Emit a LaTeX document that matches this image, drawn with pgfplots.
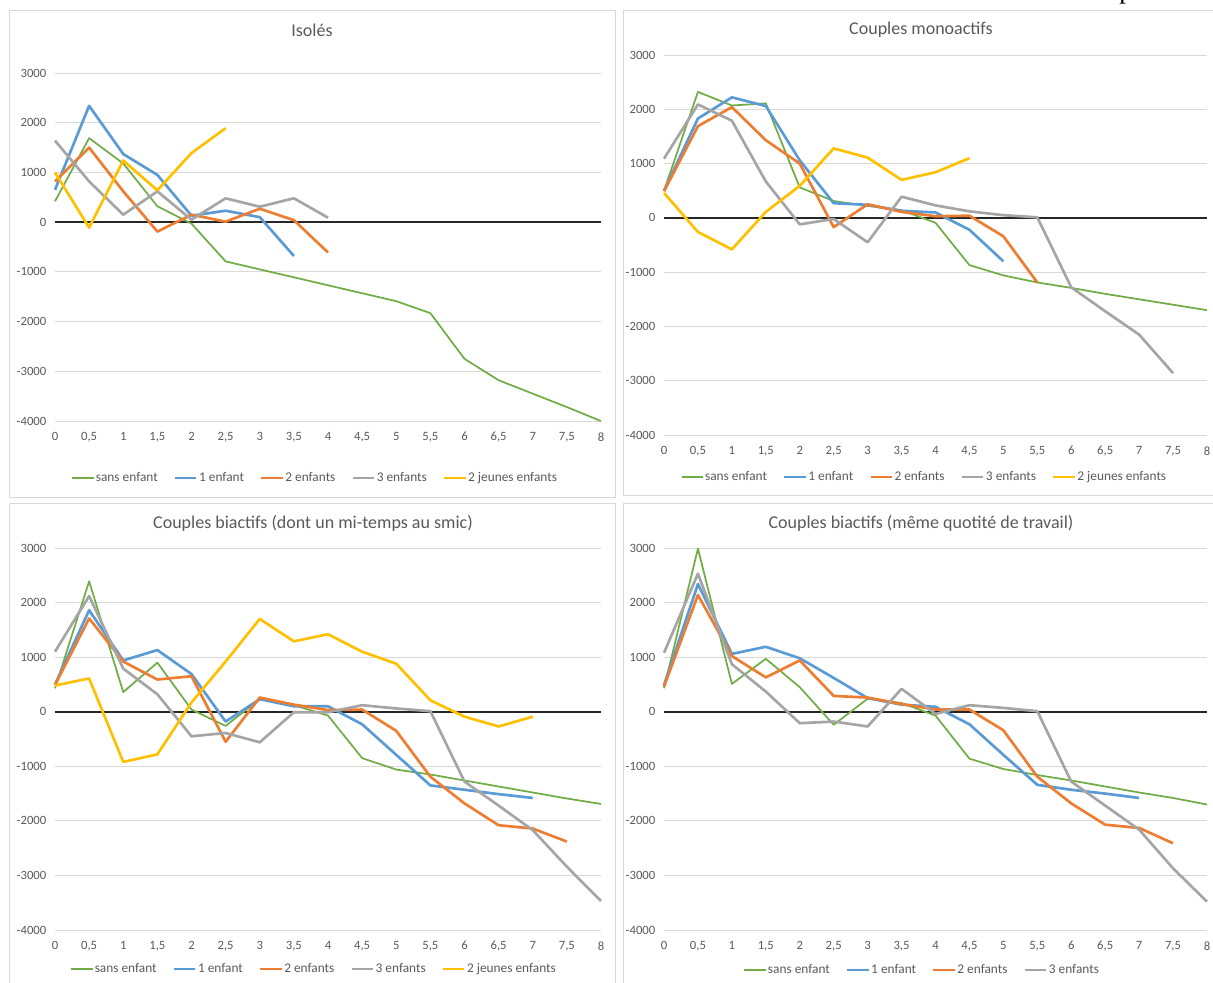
\documentclass[border=0pt]{standalone}
\usepackage{fontspec}
\setmainfont{Carlito}
\newfontfamily\seriffont{Liberation Serif}
\usepackage{pgfplots}
\pgfplotsset{compat=1.18}
\definecolor{cgreen}{HTML}{70AD47}
\definecolor{cblue}{HTML}{5B9BD5}
\definecolor{corange}{HTML}{ED7D31}
\definecolor{cgrey}{HTML}{A5A5A5}
\definecolor{cyellow}{HTML}{FFC000}
\definecolor{cgrid}{HTML}{D9D9D9}
\definecolor{ctext}{HTML}{595959}
\definecolor{cframe}{HTML}{D9D9D9}
\pgfplotsset{
  panel/.style={
    scale only axis, anchor=south west, clip=false,
    xmin=0, xmax=8, ymin=-4000, ymax=3000,
    xtick={0,0.5,1,1.5,2,2.5,3,3.5,4,4.5,5,5.5,6,6.5,7,7.5,8},
    xticklabels={0,{0,5},1,{1,5},2,{2,5},3,{3,5},4,{4,5},5,{5,5},6,{6,5},7,{7,5},8},
    ytick={-4000,-3000,-2000,-1000,0,1000,2000,3000},
    yticklabels={-4000,-3000,-2000,-1000,0,1000,2000,3000},
    ymajorgrids, grid style={cgrid, line width=0.75pt},
    axis line style={draw=none},
    major tick length=0pt,
    tick label style={font=\fontsize{9.5}{10}\selectfont, text=ctext},
    xticklabel style={yshift=-5pt},
    yticklabel style={xshift=-3pt},
    legend style={draw=none, fill=none, anchor=center, font=\fontsize{10}{11}\selectfont, text=ctext,
      column sep=0pt, nodes={inner sep=1pt},
      /tikz/every even column/.append style={column sep=11pt}},
    legend columns=-1,
    legend image code/.code={\draw[##1] (0pt,0pt) -- (16pt,0pt);},
  },
  s0/.style={cgreen, line width=1.3pt, line join=round, mark=none},
  s1/.style={cblue, line width=2pt, line join=round, mark=none},
  s2/.style={corange, line width=2pt, line join=round, mark=none},
  s3/.style={cgrey, line width=2pt, line join=round, mark=none},
  s4/.style={cyellow, line width=2pt, line join=round, mark=none},
}
\begin{document}
\begin{tikzpicture}[x=0.75pt,y=-0.75pt]
\path[use as bounding box] (0,0) rectangle (1213,982);
% frames
\draw[cframe, line width=0.75pt] (9,10) rectangle (615,497);
\draw[cframe, line width=0.75pt] (623,10) rectangle (1216,495);
\draw[cframe, line width=0.75pt] (9,503) rectangle (615,990);
\draw[cframe, line width=0.75pt] (623,503) rectangle (1216,990);
\node[anchor=base west, inner sep=0pt, font=\seriffont\fontsize{20}{20}\selectfont] at (1119,-1.5) {p};
% titles
\node[text=ctext, font=\fontsize{13.5}{15}\selectfont] at (312,30) {Isolés};
\node[text=ctext, font=\fontsize{13.5}{15}\selectfont] at (921,30) {Couples monoactifs};
\node[text=ctext, font=\fontsize{13.5}{15}\selectfont] at (313,523) {Couples biactifs (dont un mi-temps au smic)};
\node[text=ctext, font=\fontsize{13.5}{15}\selectfont] at (921,523) {Couples biactifs (même quotité de travail)};

% ---------- Isolés ----------
\begin{axis}[panel, at={(41.25pt,-315.75pt)}, width=409.5pt, height=261pt,
  legend style={at={(0.476,-0.164)}}]
\draw[black!85, line width=1.2pt] (axis cs:0,0) -- (axis cs:8,0);
\addplot[s0] coordinates {(0,420)(0.5,1690)(1,1180)(1.5,320)(2,-30)(2.5,-790)(3,-950)(3.5,-1110)(4,-1270)(4.5,-1430)(5,-1590)(5.5,-1830)(6,-2750)(6.5,-3180)(7,-3450)(7.5,-3720)(8,-4000)};
\addplot[s1] coordinates {(0,650)(0.5,2340)(1,1370)(1.5,950)(2,130)(2.5,230)(3,100)(3.5,-680)};
\addplot[s2] coordinates {(0,820)(0.5,1500)(1,620)(1.5,-190)(2,150)(2.5,10)(3,270)(3.5,40)(4,-610)};
\addplot[s3] coordinates {(0,1640)(0.5,820)(1,150)(1.5,620)(2,50)(2.5,480)(3,310)(3.5,480)(4,90)};
\addplot[s4] coordinates {(0,1000)(0.5,-110)(1,1240)(1.5,640)(2,1390)(2.5,1890)};
\legend{sans enfant,1 enfant,2 enfants,3 enfants,2 jeunes enfants}
\end{axis}

% ---------- Couples monoactifs ----------
\begin{axis}[panel, at={(498pt,-326.25pt)}, width=407.25pt, height=285pt,
  legend style={at={(0.479,-0.1105)}}]
\draw[black!85, line width=1.2pt] (axis cs:0,0) -- (axis cs:8,0);
\addplot[s0] coordinates {(0,500)(0.5,2320)(1,2070)(1.5,2110)(2,560)(2.5,310)(3,220)(3.5,140)(4,-90)(4.5,-870)(5,-1060)(5.5,-1190)(6,-1290)(6.5,-1400)(7,-1500)(7.5,-1600)(8,-1700)};
\addplot[s1] coordinates {(0,500)(0.5,1830)(1,2220)(1.5,2060)(2,1060)(2.5,270)(3,240)(3.5,130)(4,100)(4.5,-220)(5,-800)};
\addplot[s2] coordinates {(0,490)(0.5,1690)(1,2040)(1.5,1430)(2,1000)(2.5,-170)(3,250)(3.5,110)(4,30)(4.5,40)(5,-340)(5.5,-1190)};
\addplot[s3] coordinates {(0,1090)(0.5,2090)(1,1790)(1.5,670)(2,-120)(2.5,-20)(3,-450)(3.5,390)(4,230)(4.5,120)(5,50)(5.5,10)(6,-1280)(6.5,-1720)(7,-2150)(7.5,-2860)};
\addplot[s4] coordinates {(0,460)(0.5,-260)(1,-580)(1.5,110)(2,590)(2.5,1280)(3,1110)(3.5,700)(4,840)(4.5,1100)};
\legend{sans enfant,1 enfant,2 enfants,3 enfants,2 jeunes enfants}
\end{axis}

% ---------- Couples biactifs (mi-temps) ----------
\begin{axis}[panel, at={(41.25pt,-697.5pt)}, width=409.5pt, height=286.5pt,
  legend style={at={(0.474,-0.102)}}]
\draw[black!85, line width=1.2pt] (axis cs:0,0) -- (axis cs:8,0);
\addplot[s0] coordinates {(0,430)(0.5,2390)(1,360)(1.5,900)(2,40)(2.5,-260)(3,230)(3.5,120)(4,-70)(4.5,-850)(5,-1060)(5.5,-1150)(6,-1260)(6.5,-1370)(7,-1480)(7.5,-1590)(8,-1690)};
\addplot[s1] coordinates {(0,500)(0.5,1860)(1,940)(1.5,1130)(2,690)(2.5,-180)(3,230)(3.5,100)(4,100)(4.5,-230)(5,-790)(5.5,-1350)(6,-1430)(6.5,-1510)(7,-1580)};
\addplot[s2] coordinates {(0,490)(0.5,1710)(1,920)(1.5,590)(2,650)(2.5,-550)(3,260)(3.5,130)(4,30)(4.5,40)(5,-350)(5.5,-1190)(6,-1680)(6.5,-2080)(7,-2140)(7.5,-2380)};
\addplot[s3] coordinates {(0,1100)(0.5,2120)(1,790)(1.5,320)(2,-450)(2.5,-390)(3,-560)(3.5,-10)(4,-10)(4.5,120)(5,60)(5.5,10)(6,-1280)(6.5,-1720)(7,-2170)(7.5,-2840)(8,-3470)};
\addplot[s4] coordinates {(0,480)(0.5,610)(1,-920)(1.5,-780)(2,170)(2.5,920)(3,1700)(3.5,1290)(4,1420)(4.5,1100)(5,880)(5.5,210)(6,-90)(6.5,-270)(7,-90)};
\legend{sans enfant,1 enfant,2 enfants,3 enfants,2 jeunes enfants}
\end{axis}

% ---------- Couples biactifs (même quotité) ----------
\begin{axis}[panel, at={(498pt,-697.5pt)}, width=407.25pt, height=286.5pt,
  legend style={at={(0.475,-0.1047)}}]
\draw[black!85, line width=1.2pt] (axis cs:0,0) -- (axis cs:8,0);
\addplot[s0] coordinates {(0,430)(0.5,2990)(1,510)(1.5,970)(2,450)(2.5,-240)(3,240)(3.5,160)(4,-70)(4.5,-860)(5,-1050)(5.5,-1160)(6,-1260)(6.5,-1370)(7,-1480)(7.5,-1580)(8,-1700)};
\addplot[s1] coordinates {(0,490)(0.5,2340)(1,1060)(1.5,1190)(2,980)(2.5,620)(3,250)(3.5,130)(4,90)(4.5,-230)(5,-790)(5.5,-1340)(6,-1430)(6.5,-1500)(7,-1580)};
\addplot[s2] coordinates {(0,460)(0.5,2140)(1,1020)(1.5,630)(2,940)(2.5,290)(3,260)(3.5,140)(4,40)(4.5,40)(5,-340)(5.5,-1190)(6,-1680)(6.5,-2070)(7,-2130)(7.5,-2410)};
\addplot[s3] coordinates {(0,1080)(0.5,2530)(1,870)(1.5,370)(2,-210)(2.5,-180)(3,-270)(3.5,420)(4,-40)(4.5,120)(5,70)(5.5,10)(6,-1280)(6.5,-1720)(7,-2160)(7.5,-2870)(8,-3480)};
\legend{sans enfant,1 enfant,2 enfants,3 enfants}
\end{axis}
\end{tikzpicture}
\end{document}
